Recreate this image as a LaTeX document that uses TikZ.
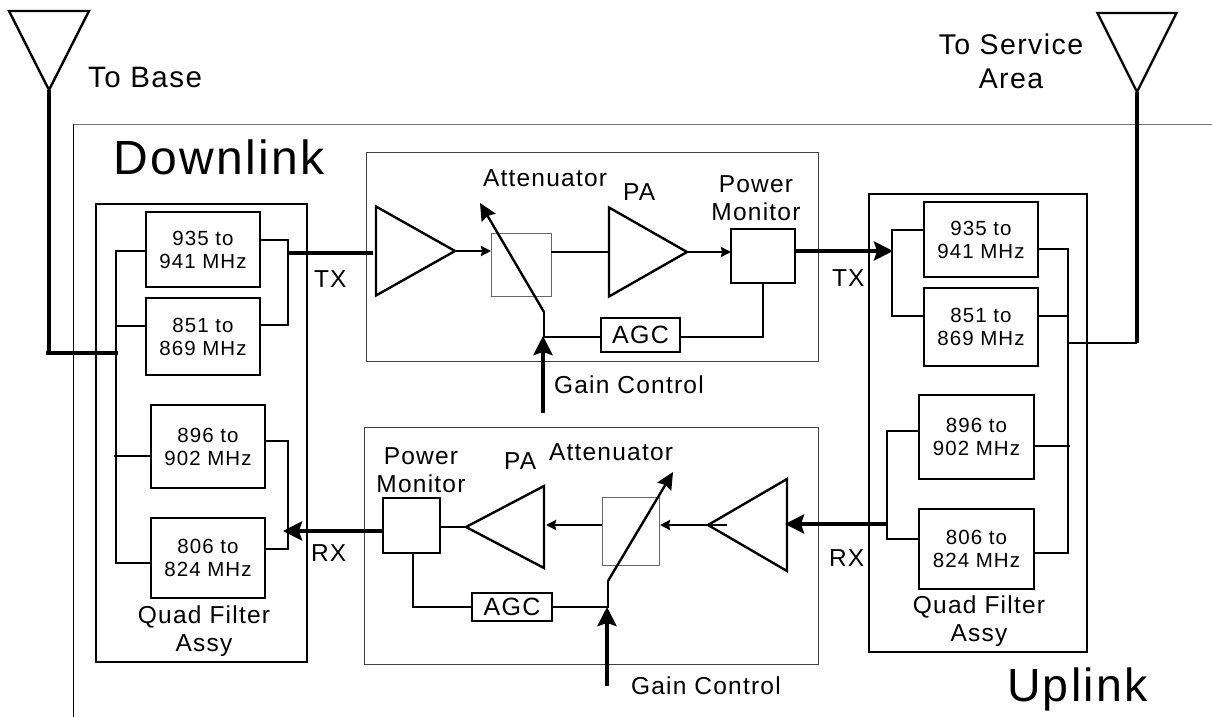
\documentclass[tikz,border=0pt]{standalone}
\usepackage{fontspec}
\setmainfont{Liberation Sans}[LetterSpace=5]
\usepackage{tikz}
\usetikzlibrary{arrows.meta,shapes.geometric}

\begin{document}
\begin{tikzpicture}[x=1pt, y=-1pt,
 main/.style = {rectangle, draw, line width=2.4pt, inner sep=0pt, outer sep=0pt},
 filter/.style = {main, font=\fontsize{20.5}{23}\selectfont, align=center},
 panel/.style = {rectangle, draw=black!75, line width=1pt, inner sep=0pt, outer sep=0pt},
 amp/.style = {isosceles triangle, isosceles triangle stretches, draw, line width=2.4pt, inner sep=0pt, outer sep=0pt, anchor=apex},
 lab/.style = {inner sep=0pt, outer sep=0pt, align=center, font=\fontsize{24.5}{28}\selectfont},
 txt/.style = {lab, font=\fontsize{28.5}{34}\selectfont},
 huge/.style = {lab, font=\fontsize{48}{54}\selectfont},
 sig/.style = {line width=2.2pt},
 thickline/.style = {line width=4.5pt},
 small/.style = {sig, -{Stealth[length=10pt,width=10pt,inset=1pt]}},
 big/.style = {thickline, -{Stealth[length=19pt,width=19pt,inset=3pt]}},
 var/.style = {line width=2.4pt, -{Stealth[length=17pt,width=16pt,inset=2pt]}}]

\path[use as bounding box] (0,0) rectangle (1212,717);

% outer frame
\coordinate (fc) at (73,124);
\coordinate (ft) at (1212,124);
\coordinate (fb) at (73,717);
\draw[black!55, line width=1pt] (fc) -- (ft);
\draw[line width=1pt] (fc) -- (fb);

% antennas
\node[amp, shape border rotate=270, minimum width=80pt, minimum height=79pt] (ab) at (49,90) {};
\node[amp, shape border rotate=270, minimum width=79pt, minimum height=79pt] (as) at (1137,92) {};
\node[txt, font=\fontsize{29.5}{34}\selectfont, anchor=base west] (tb) at (88,88) {To Base};
\node[txt, anchor=center] (ts) at (1011,61) {To Service\\Area};

\node[huge, anchor=base west] (dn) at (113,174) {Downlink};
\node[huge, font=\fontsize{46.5}{54}\selectfont, anchor=base west] (up) at (1007,701) {Uplink};

% downlink filters
\node[main, minimum width=211pt, minimum height=458pt] (dq) at (201.5,433) {};
\node[filter, minimum width=114pt, minimum height=75pt] (d1) at (203,249.5) {935 to\\941 MHz};
\node[filter, minimum width=114pt, minimum height=77pt] (d2) at (203,336.5) {851 to\\869 MHz};
\node[filter, minimum width=114pt, minimum height=83pt] (d3) at (208,446.5) {896 to\\902 MHz};
\node[filter, minimum width=114pt, minimum height=80pt] (d4) at (208,558) {806 to\\824 MHz};
\node[lab, anchor=center] (dl) at (204,631) {Quad Filter\\Assy};

% uplink filters
\node[main, minimum width=218pt, minimum height=458pt] (uq) at (978,423) {};
\node[filter, minimum width=114pt, minimum height=75pt] (u1) at (981,239.5) {935 to\\941 MHz};
\node[filter, minimum width=114pt, minimum height=78pt] (u2) at (981,327) {851 to\\869 MHz};
\node[filter, minimum width=115pt, minimum height=84pt] (u3) at (976.5,437) {896 to\\902 MHz};
\node[filter, minimum width=115pt, minimum height=80pt] (u4) at (976.5,549) {806 to\\824 MHz};
\node[lab, anchor=center] (ul) at (979,621) {Quad Filter\\Assy};

% panels
\node[panel, minimum width=452pt, minimum height=209pt] (pt) at (592,256.5) {};
\node[panel, minimum width=454pt, minimum height=237pt] (pb) at (591,545.5) {};

% top chain
\node[amp, minimum width=89pt, minimum height=79pt] (a1) at (455,251) {};
\node[panel, draw=black!60, minimum width=60pt, minimum height=63pt] (ta) at (521,264.5) {};
\node[amp, minimum width=89pt, minimum height=78pt] (a2) at (687,252) {};
\node[main, minimum width=64pt, minimum height=54pt] (tm) at (763,256) {};
\node[main, minimum width=79pt, minimum height=34pt, font=\fontsize{25}{28}\selectfont] (tg) at (640.5,335) {AGC};
\node[lab, anchor=base west] (tat) at (483,186) {Attenuator};
\node[lab, anchor=base west] (tpa) at (623,200) {PA};
\node[lab, anchor=center] (tpm) at (756,198) {Power\\Monitor};
\node[lab, anchor=base west] (tgc) at (554,393) {Gain Control};

% bottom chain
\node[amp, shape border rotate=180, minimum width=82pt, minimum height=78pt] (b1) at (466,527) {};
\node[panel, draw=black!60, minimum width=57pt, minimum height=68pt] (ba) at (630.5,531) {};
\node[amp, shape border rotate=180, minimum width=92pt, minimum height=79pt] (b2) at (708,525) {};
\node[main, minimum width=57pt, minimum height=55pt] (bm) at (411.5,525.5) {};
\node[main, minimum width=80pt, minimum height=28pt, font=\fontsize{25}{28}\selectfont] (bg) at (512,607) {AGC};
\node[lab, anchor=base west] (bat) at (549,460) {Attenuator};
\node[lab, anchor=base west] (bpa) at (504,469) {PA};
\node[lab, anchor=center] (bpm) at (421,470) {Power\\Monitor};
\node[lab, anchor=base west] (bgc) at (631,694) {Gain Control};

\node[lab, anchor=base west] (dtxl) at (314,287) {TX};
\node[lab, anchor=base west] (drxl) at (311,561) {RX};
\node[lab, anchor=base west] (utxl) at (832,286) {TX};
\node[lab, anchor=base west] (urxl) at (829,566) {RX};

% junctions
\coordinate (dl1) at (116,251);
\coordinate (dl2) at (116,326);
\coordinate (dl3) at (114,456);
\coordinate (dl4) at (116,563);
\coordinate (dr1) at (288,240);
\coordinate (dr2) at (288,325);
\coordinate (dr3) at (288,441);
\coordinate (dr4) at (288,549);
\coordinate (dtx) at (288,253);
\coordinate (dte) at (373,253);
\coordinate (drx) at (283,531);
\coordinate (dfs) at (46,353);
\coordinate (dfc) at (49,353);
\coordinate (dfe) at (118,353);
\coordinate (ul1) at (892,230);
\coordinate (ul2) at (892,316);
\coordinate (ul3) at (887,431);
\coordinate (ul4) at (887,539);
\coordinate (utx) at (893,251);
\coordinate (urx) at (887,524);
\coordinate (ur1) at (1068,249);
\coordinate (ur2) at (1068,316);
\coordinate (ur3) at (1070,446);
\coordinate (ur4) at (1068,553);
\coordinate (ufs) at (1067,343);
\coordinate (ufc) at (1137,343);
\coordinate (ts1) at (544,337);
\coordinate (ts2) at (544,312);
\coordinate (tv) at (480,203);
\coordinate (tf) at (763,337);
\coordinate (tc) at (543,413);
\coordinate (tt) at (543,336);
\coordinate (bs1) at (608,607);
\coordinate (bs2) at (608,581);
\coordinate (bv) at (673,472);
\coordinate (bf) at (413,607);
\coordinate (bc) at (607,686);
\coordinate (bt) at (607,607);
\coordinate (b1t) at (546,525);
\coordinate (b2s) at (727,525);
\coordinate (b2t) at (660,525);
\coordinate (brx) at (785,524);

% downlink wiring
\draw[thickline] (ab.apex) -- (dfc);
\draw[thickline] (dfs) -- (dfe);
\draw[sig] (d1.west |- dl1) -- (dl1) -- (dl4) -- (d4.west |- dl4);
\path[sig]
 (dl2) edge (d2.west |- dl2)
 (dl3) edge (d3.west |- dl3);
\draw[sig] (d1.east |- dr1) -- (dr1) -- (dr2) -- (d2.east |- dr2);
\draw[sig] (d3.east |- dr3) -- (dr3) -- (dr4) -- (d4.east |- dr4);
\draw[thickline] (dtx) -- (dte);

% uplink wiring
\draw[thickline] (as.apex) -- (ufc);
\draw[sig] (ufs) -- (ufc);
\draw[sig] (u1.west |- ul1) -- (ul1) -- (ul2) -- (u2.west |- ul2);
\draw[sig] (u3.west |- ul3) -- (ul3) -- (ul4) -- (u4.west |- ul4);
\draw[sig] (u1.east |- ur1) -- (ur1) -- (ur4) -- (u4.east |- ur4);
\path[sig]
 (u2.east |- ur2) edge (ur2)
 (u3.east |- ur3) edge (ur3);

% top panel wiring
\path
 (a1.apex) edge[small] (ta.west |- a1.apex)
 (a2.apex) edge[small] (tm.west |- a2.apex)
 (tm.east |- utx) edge[big] (utx)
 (tc) edge[big] (tt)
 (ts2) edge[var] (tv);
\draw[sig] (ta.east |- a2.apex) -- (a2.west |- a2.apex);
\draw[sig] (tm.south -| tf) -- (tf) -- (tg.east |- tf);
\draw[sig] (tg.west |- ts1) -- (ts1) -- (ts2);

% bottom panel wiring
\path
 (ba.west |- b1t) edge[small] (b1t)
 (b2s) edge[small] (b2t)
 (urx) edge[big] (brx)
 (bm.west |- drx) edge[big] (drx)
 (bc) edge[big] (bt)
 (bs2) edge[var] (bv);
\draw[sig] (bm.east |- b1.apex) -- (b1.apex);
\draw[sig] (bm.south -| bf) -- (bf) -- (bg.west |- bf);
\draw[sig] (bg.east |- bs1) -- (bs1) -- (bs2);
\end{tikzpicture}
\end{document}
